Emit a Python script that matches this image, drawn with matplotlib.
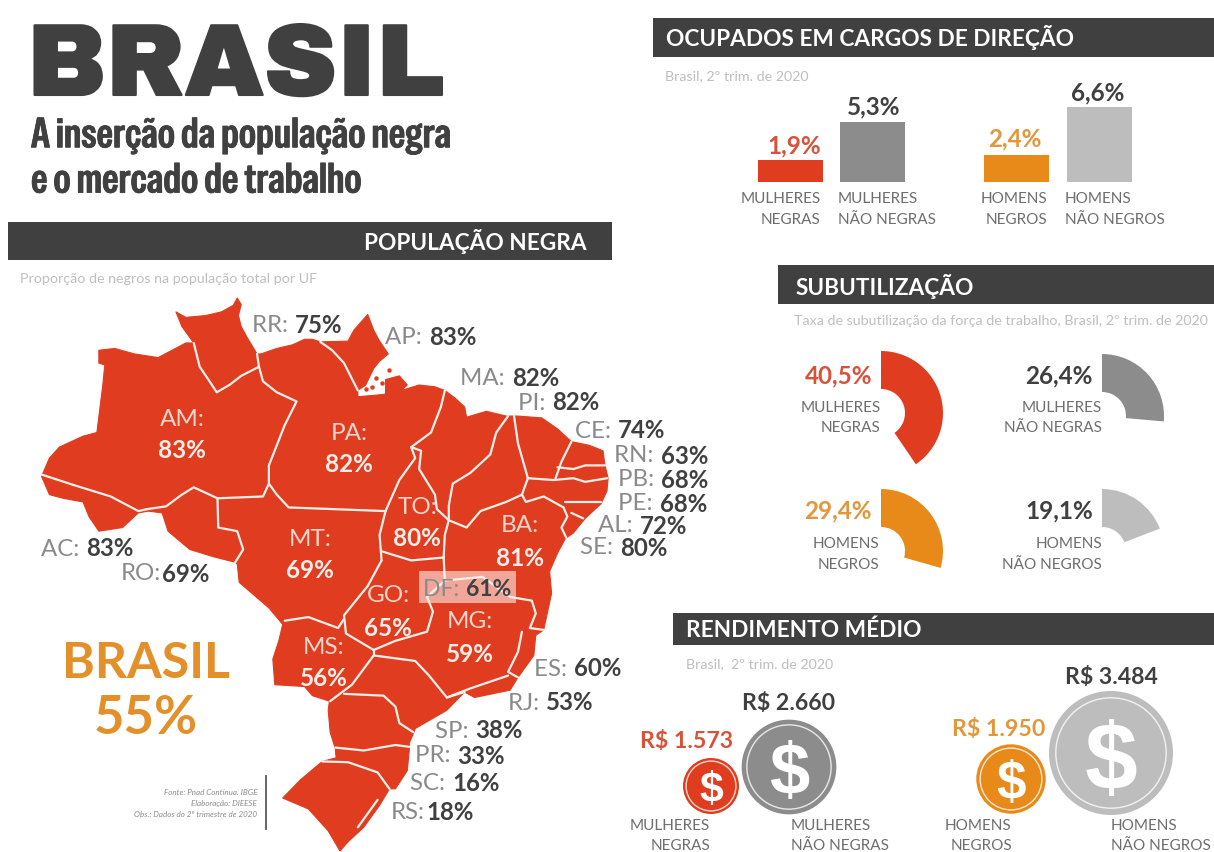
import matplotlib
matplotlib.use("Agg")
import logging
logging.getLogger("matplotlib.font_manager").setLevel(logging.ERROR)
import matplotlib.pyplot as plt
from matplotlib.patches import Polygon, Circle, Rectangle
import matplotlib.patheffects as pe

# ---------- data ----------
outer_ufs = ["RR", "AP", "MA", "PI", "CE", "RN", "PB", "PE", "AL", "SE", "AC", "RO", "ES", "RJ", "SP", "PR", "SC", "RS"]
outer_vals = [75, 83, 82, 82, 74, 63, 68, 68, 72, 80, 83, 69, 60, 53, 38, 33, 16, 18]
inner_ufs = ["AM", "PA", "MT", "TO", "BA", "GO", "MG", "MS"]
inner_vals = [83, 82, 69, 80, 81, 65, 59, 56]
df_val = 61
brasil_val = 55
group_lines = [("MULHERES", "NEGRAS"), ("MULHERES", "NÃO NEGRAS"), ("HOMENS", "NEGROS"), ("HOMENS", "NÃO NEGROS")]
cargos = [1.9, 5.3, 2.4, 6.6]
subutil = [40.5, 26.4, 29.4, 19.1]
rendimento = [1573, 2660, 1950, 3484]

# ---------- style ----------
RED, GREY, ORANGE, LIGHT = "#E03C1F", "#8C8C8C", "#E88A1A", "#BDBDBD"
series_colors = [RED, GREY, ORANGE, LIGHT]
value_colors = ["#D8523A", "#404040", "#E2973B", "#404040"]
DARK = "#404040"
W, H = 1214, 853
plt.rcParams["font.family"] = ["Lato", "DejaVu Sans"]

fig = plt.figure(figsize=(W / 100, H / 100), dpi=100, facecolor="white")
ax = fig.add_axes([0, 0, 1, 1])
ax.set_xlim(0, W); ax.set_ylim(H, 0); ax.axis("off")
rend = fig.canvas.get_renderer()

def sub_axes(x0, y0, x1, y1):
    a = fig.add_axes([x0 / W, 1 - y1 / H, (x1 - x0) / W, (y1 - y0) / H])
    a.axis("off")
    a.patch.set_alpha(0)
    return a

def T(x, y, s, **kw):
    kw.setdefault("va", "center")
    return ax.text(x, y, s, **kw)

# ---------- title ----------
T(27, 69, "BRASIL", fontsize=73, family=["Archivo Black", "DejaVu Sans"], fontweight="bold", color=DARK,
  path_effects=[pe.withStroke(linewidth=1.5, foreground=DARK)])
for y, s in [(137, "A inserção da população negra"), (182, "e o mercado de trabalho")]:
    T(31, y, s, fontsize=30, family=["Special Gothic Condensed One", "Liberation Sans"], color=DARK,
      path_effects=[pe.withStroke(linewidth=0.6, foreground=DARK)])

# ---------- headers ----------
headers = [(653, 19, 1214, 58, "OCUPADOS EM CARGOS DE DIREÇÃO", 666, 37, "left"),
           (8, 223, 612, 261, "POPULAÇÃO NEGRA", 587, 241, "right"),
           (778, 266, 1214, 305, "SUBUTILIZAÇÃO", 796, 286, "left"),
           (673, 614, 1214, 646, "RENDIMENTO MÉDIO", 686, 630, "left")]
for x0, y0, x1, y1, s, tx, ty, ha in headers:
    ax.add_patch(Rectangle((x0, y0), x1 - x0, y1 - y0, color=DARK, lw=0))
    T(tx, ty, s, color="white", fontsize=16.3, fontweight="bold", ha=ha)

capt = dict(color="#BFBFBF", fontsize=10.3)
T(665, 76, "Brasil, 2º trim. de 2020", **capt)
T(20, 279, "Proporção de negros na população total por UF", **capt)
T(794, 321, "Taxa de subutilização da força de trabalho, Brasil, 2º trim. de 2020", **capt)
T(686, 664, "Brasil,  2º trim. de 2020", **capt)

# ---------- map (decorative geography, traced in crop coordinates) ----------
outline = [(445,90),(470,105),(520,100),(560,90),(590,72),(600,52),(610,70),(603,100),(610,130),(625,160),(650,205),(660,205),(700,190),(740,180),(770,165),(790,165),(810,172),(880,170),(895,140),(930,97),(945,140),(960,170),(982,205),(960,225),(945,245),(925,290),(905,305),(905,322),(950,318),(975,315),(975,275),(1010,265),(1030,290),(1015,305),(1060,290),(1100,295),(1125,305),(1150,325),(1175,350),(1180,378),(1230,362),(1280,375),(1310,375),(1370,380),(1410,410),(1445,445),(1490,455),(1525,470),(1530,510),(1538,545),(1535,580),(1520,615),(1480,655),(1450,695),(1430,710),(1410,750),(1390,800),(1395,860),(1375,960),(1355,975),(1350,1030),(1310,1090),(1290,1125),(1200,1145),(1175,1130),(1130,1180),(1050,1230),(1045,1245),(1035,1270),(1035,1290),(1030,1345),(1000,1395),(985,1395),(960,1440),(920,1500),(880,1540),(860,1565),(830,1510),(780,1450),(715,1420),(760,1370),(815,1320),(850,1310),(848,1285),(835,1240),(830,1180),(833,1155),(790,1140),(770,1115),(695,1110),(690,1040),(705,990),(715,945),(680,900),(605,830),(600,780),(595,775),(540,760),(480,740),(425,690),(410,640),(375,635),(350,640),(310,680),(250,690),(225,650),(210,610),(160,600),(125,590),(105,540),(125,490),(150,460),(210,430),(245,420),(260,290),(265,235),(250,230),(250,195),(290,190),(340,205),(400,215),(470,175),(490,175),(460,130)]
borders = [
 [(490,175),(505,240),(530,280),(548,310),(580,290),(610,265),(655,240),(650,205)],
 [(655,240),(665,280),(700,310),(750,335),(720,400),(680,510),(680,560),(665,595),(550,600)],
 [(680,560),(700,590),(730,625),(975,635)],
 [(105,535),(190,565),(280,595),(350,635),(370,630)],
 [(370,630),(420,622),(460,590),(490,570),(550,600)],
 [(550,600),(552,680),(600,690),(615,740),(595,775)],
 [(810,172),(840,195),(870,230),(905,305)],
 [(1125,305),(1115,350),(1090,420),(1040,460)],
 [(1040,460),(1050,490),(1010,550),(975,635)],
 [(975,635),(960,700),(965,770)],
 [(1040,460),(1065,470),(1060,520),(1100,590),(1105,630),(1135,660)],
 [(965,745),(1010,760),(1040,770),(1122,762)],
 [(1135,660),(1125,700),(1122,762)],
 [(1285,375),(1255,420),(1240,480),(1190,530),(1145,560),(1135,620),(1135,660)],
 [(1300,375),(1310,450),(1335,545)],
 [(1135,660),(1180,680),(1215,635),(1280,610),(1320,590),(1335,545)],
 [(1445,445),(1420,500),(1405,545)],
 [(1335,545),(1400,550)],
 [(1410,515),(1450,520),(1480,510),(1530,510)],
 [(1400,550),(1450,545),(1480,555),(1536,545)],
 [(1430,610),(1480,610),(1520,610)],
 [(1320,590),(1330,610),(1375,595),(1425,625)],
 [(1425,625),(1435,650),(1420,680),(1432,708)],
 [(1445,640),(1475,655)],
 [(965,770),(930,840),(870,920),(875,970),(945,1015)],
 [(870,930),(855,955),(780,925),(720,935)],
 [(1122,762),(1125,825),(1080,870),(1095,910),(1080,965),(1000,990),(945,1015)],
 [(1125,825),(1220,815),(1290,870),(1345,880),(1355,915),(1340,955),(1375,960)],
 [(1320,965),(1310,1020),(1285,1075),(1310,1090)],
 [(1285,1085),(1190,1120),(1130,1145)],
 [(945,1030),(1050,1045),(1085,1085),(1130,1145),(1175,1130)],
 [(945,1015),(945,1030)],
 [(945,1030),(890,1110),(835,1155)],
 [(870,1135),(970,1140),(1000,1170),(1010,1215),(1045,1240)],
 [(848,1282),(920,1290),(1000,1275),(1035,1280)],
 [(815,1320),(880,1322),(955,1350),(985,1395)],
 [(955,1425),(925,1470),(905,1500)],
]
mx = lambda p: p[0] / 2.529
my = lambda p: 280 + p[1] / 2.736
ax.add_patch(Polygon([(mx(p), my(p)) for p in outline], closed=True, facecolor=RED, edgecolor=RED, lw=0.8, joinstyle="round"))
for line in borders:
    ax.plot([mx(p) for p in line], [my(p) for p in line], color="#FBEFEA", lw=1.6, solid_capstyle="round", solid_joinstyle="round")
islands = [(950,270),(985,250),(965,285),(940,295),(925,300)]
ax.plot([mx(p) for p in islands], [my(p) for p in islands], ls="none", marker="o", ms=2.2, color=RED)

outer_pos = [(252, 325), (385, 337), (460, 378), (518, 403), (575, 431), (614, 456), (618, 480), (618, 504),
             (598, 526), (580, 548), (41, 549), (121, 574), (534, 669), (508, 703), (435, 731), (415, 756), (410, 784), (391, 813)]
inner_pos = [(182, 419, 451), (349, 433, 465), (310, 539, 571), (417, 507, 539), (520, 526, 558),
             (388, 595, 628), (470, 622, 655), (324, 647, 679)]

def pair(x, y, a, b, fs=17.3):
    t = T(x, y, a, color="#8A8A8A", fontsize=fs)
    e = t.get_window_extent(rend)
    T(e.x1 + 1, y, b, color=DARK, fontsize=fs, fontweight="bold")

for (x, y), u, v in zip(outer_pos, outer_ufs, outer_vals):
    pair(x, y, f"{u}:" if u in ("RO", "RS") else f"{u}: ", f"{v}%")

for (x, y0, y1), u, v in zip(inner_pos, inner_ufs, inner_vals):
    T(x, y0, f"{u}:", color="#F6D5CB", fontsize=17.5, ha="center")
    T(x, y1, f"{v}%", color="#FBEDE8", fontsize=17.5, fontweight="bold", ha="center")

ax.add_patch(Rectangle((419, 572), 97, 32, color="white", alpha=0.55, lw=0))
pair(423, 590, "DF: ", f"{df_val}%", fs=16.5)

T(146, 664, "BRASIL", color="#E3902A", fontsize=36, fontweight="bold", ha="center")
T(146, 718, f"{brasil_val}%", color="#E3902A", fontsize=38, fontweight="bold", ha="center")

for y, s in [(793, "Fonte: Pnad Contínua. IBGE"), (804, "Elaboração: DIEESE"), (815, "Obs.: Dados do 2º trimestre de 2020")]:
    T(257, y, s, color="#8C8C8C", fontsize=5.8, style="italic", ha="right")
ax.plot([266, 266], [777, 830], color="#595959", lw=1.3)

# ---------- cargos: bars ----------
bar_ax = sub_axes(758, 108, 1132, 183)
bar_x = [0, 82, 225.5, 309]
bar_ax.bar(bar_x, cargos, width=65, align="edge", color=series_colors, lw=0)
bar_ax.set_xlim(0, 374); bar_ax.set_ylim(0, max(cargos))
val_xy = [(794, 146), (874, 107), (1015, 139), (1098, 93)]
for (x, y), v, c in zip(val_xy, cargos, value_colors):
    T(x, y, f"{v:.1f}%".replace(".", ","), color=c, fontsize=17.5, fontweight="bold", ha="center")
lab = dict(color="#6E6E6E", fontsize=11)
for (x, ha), lines in zip([(821, "right"), (838, "left"), (1047, "right"), (1065, "left")], group_lines):
    T(x, 199, lines[0], ha=ha, **lab)
    T(x, 220, lines[1], ha=ha, **lab)

# ---------- subutilização: donut sectors ----------
centers = [(881, 414), (1102, 417), (881, 552), (1102, 552)]
radii = 62
for (cx, cy), v, c in zip(centers, subutil, series_colors):
    a = sub_axes(cx - radii, cy - radii, cx + radii, cy + radii)
    a.pie([v, 100 - v], startangle=90, counterclock=False, radius=1,
          colors=[c, (1, 1, 1, 0)], wedgeprops=dict(width=1 - 24 / radii, lw=0))
    a.set_xlim(-1, 1); a.set_ylim(-1, 1)
sub_txt = [(872, 376, 881, 408, 428), (1093, 376, 1102, 408, 428), (872, 511, 879, 544, 565), (1093, 511, 1102, 544, 565)]
for (vx, vy, lx, l0, l1), v, c, lines in zip(sub_txt, subutil, value_colors, group_lines):
    T(vx, vy, f"{v:.1f}%".replace(".", ","), color=c, fontsize=17.5, fontweight="bold", ha="right")
    T(lx, l0, lines[0], ha="right", **lab)
    T(lx, l1, lines[1], ha="right", **lab)

# ---------- rendimento: coins ----------
coin_xy = [(711, 787), (789, 768), (1011, 780), (1111, 754)]
px_per_real = 0.0178
for (cx, cy), v, c in zip(coin_xy, rendimento, series_colors):
    r = v * px_per_real
    ax.add_patch(Circle((cx, cy), r, facecolor=c, edgecolor="none"))
    ax.add_patch(Circle((cx, cy), r * 0.89, facecolor="none", edgecolor="white", lw=1.0, alpha=0.8))
    ax.text(cx, cy, "$", color="white", ha="center", va="center_baseline", fontsize=r * 1.1,
            family="Liberation Sans", fontweight="bold")
val_txt = [(687, 742), (789, 704), (999, 730), (1111, 677)]
for (x, y), v, c in zip(val_txt, rendimento, value_colors):
    T(x, y, f"R$ {v:,}".replace(",", "."), color=c, fontsize=16.7, fontweight="bold", ha="center")
rend_lab = [(630, 651), (791, 791), (945, 951), (1111, 1111)]
for (x0, x1), lines in zip(rend_lab, group_lines):
    T(x0, 826, lines[0], **lab)
    T(x1, 846, lines[1], **lab)

fig.savefig("out.png", dpi=100, facecolor="white")
